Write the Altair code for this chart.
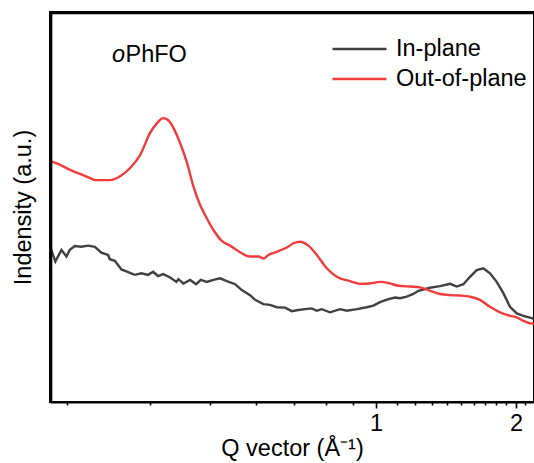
import altair as alt
import pandas as pd

# ---- data ----
series_names = ["In-plane", "Out-of-plane"]
series_colors = ["#404040", "#f03c3c"]

q_in = [0.2834, 0.2846, 0.2885, 0.2944, 0.2994, 0.3028, 0.3080, 0.3149, 0.3222, 0.3298,
        0.3373, 0.3453, 0.3473, 0.3535, 0.3618, 0.3705, 0.3794, 0.3884, 0.3980, 0.4052,
        0.4126, 0.4203, 0.4306, 0.4414, 0.4446, 0.4530, 0.4644, 0.4751, 0.4836, 0.4948,
        0.5075, 0.5206, 0.5344, 0.5521, 0.5667, 0.5855, 0.5975, 0.6177, 0.6344, 0.6522,
        0.6748, 0.6936, 0.7128, 0.7333, 0.7543, 0.7706, 0.7871, 0.8156, 0.8518, 0.8775,
        0.9172, 0.9591, 0.9881, 1.0184, 1.0582, 1.0916, 1.1169, 1.1528, 1.1894, 1.2180,
        1.2883, 1.3524, 1.4210, 1.4700, 1.5196, 1.5713, 1.6266, 1.6827, 1.7415, 1.8045,
        1.8688, 1.9365, 2.0081, 2.0814, 2.1790, 2.2070]
i_in = [38.6, 39.0, 36.0, 39.0, 37.3, 39.0, 40.0, 39.8, 40.1, 39.8,
        38.3, 37.7, 36.6, 36.2, 34.0, 33.3, 32.6, 33.0, 32.6, 33.4,
        32.3, 32.8, 32.0, 30.8, 31.5, 30.4, 31.3, 30.2, 31.3, 30.8,
        31.3, 31.7, 31.0, 30.2, 28.7, 27.4, 26.2, 25.1, 24.9, 24.3,
        24.2, 23.3, 23.6, 23.8, 24.0, 23.4, 23.8, 23.0, 23.8, 23.4,
        23.8, 24.3, 24.7, 25.6, 26.4, 26.8, 26.6, 27.0, 27.7, 28.5,
        29.3, 29.7, 30.3, 29.6, 30.2, 32.1, 33.8, 34.3, 33.0, 30.8,
        27.9, 24.4, 22.7, 22.1, 21.5, 21.3]

q_out = [0.2834, 0.2931, 0.3031, 0.3135, 0.3244, 0.3301, 0.3477, 0.3601, 0.3731, 0.3866,
         0.4008, 0.4111, 0.4202, 0.4279, 0.4359, 0.4474, 0.4592, 0.4696, 0.4823, 0.4917,
         0.5075, 0.5241, 0.5412, 0.5629, 0.5855, 0.6053, 0.6177, 0.6302, 0.6522, 0.6795,
         0.6983, 0.7178, 0.7435, 0.7706, 0.8043, 0.8399, 0.8902, 0.9305, 0.9732, 1.0184,
         1.0663, 1.1083, 1.1705, 1.2277, 1.2883, 1.3524, 1.4210, 1.4941, 1.5713, 1.6538,
         1.7415, 1.8355, 1.9365, 2.0081, 2.0814, 2.1587, 2.2070]
i_out = [61.8, 60.8, 59.5, 58.5, 57.4, 56.9, 56.9, 57.9, 60.0, 63.3,
         69.0, 71.5, 72.8, 72.3, 70.5, 66.4, 61.3, 55.6, 50.5, 47.9,
         44.1, 41.3, 40.1, 38.4, 37.3, 37.3, 36.8, 37.7, 38.5, 39.6,
         40.7, 41.1, 40.1, 37.7, 34.3, 32.1, 31.0, 30.3, 30.4, 30.8,
         30.4, 29.8, 29.6, 29.4, 28.5, 27.7, 27.4, 27.3, 27.0, 26.2,
         24.4, 23.0, 22.1, 21.7, 20.8, 20.2, 20.1]

tick_values = [0.3, 0.4, 0.5, 0.6, 0.7, 0.8, 0.9, 1, 1.1, 1.2, 1.3, 1.4, 1.5,
               1.6, 1.7, 1.8, 1.9, 2, 2.1]
x_domain = [0.2834, 2.207]
y_domain = [0, 100]

# plot frame edges (in data units): top edge and left edge
frame_top_q = [0.2834]
frame_top_q_end = [2.207]
frame_top_i = [99.75]
frame_left_q = [0.2844]
frame_left_i = [0]
frame_left_i_end = [100]

sample_label_italic = "o"
sample_label_rest = "PhFO"

FONT = "Liberation Sans"
FS = 23.5
W, H = 484, 390

df = pd.DataFrame({
    "q": q_in + q_out,
    "intensity": i_in + i_out,
    "series": [series_names[0]] * len(q_in) + [series_names[1]] * len(q_out),
})

x_enc = alt.X(
    "q:Q",
    scale=alt.Scale(type="pow", exponent=-0.25, domain=x_domain, nice=False, zero=False),
    axis=alt.Axis(
        values=tick_values,
        format="~g",
        labelExpr="(datum.value == 1 || datum.value == 2) ? datum.label : ''",
        labelOverlap=False,
        labelFlush=False,
        tickSize={"condition": {"test": "datum.value == 1 || datum.value == 2", "value": 6}, "value": 3},
        tickWidth=1.6,
        tickColor="black",
        labelPadding=3,
        labelFontSize=FS,
        labelFont=FONT,
        labelColor="black",
        domain=True,
        domainColor="black",
        domainWidth=2,
        grid=False,
        title="Q vector (Å⁻¹)",
        titleFont=FONT,
        titleFontSize=FS,
        titleFontWeight="normal",
        titleColor="black",
        titleX=242,
        titleY=46,
        titleAlign="center",
        titleBaseline="middle",
    ),
)

y_enc = alt.Y(
    "intensity:Q",
    scale=alt.Scale(domain=y_domain, nice=False, zero=False),
    axis=alt.Axis(
        ticks=False,
        labels=False,
        domain=True,
        domainColor="black",
        domainWidth=2,
        grid=False,
        title="Indensity (a.u.)",
        titleFont=FONT,
        titleFontSize=FS,
        titleFontWeight="normal",
        titleColor="black",
        titleX=-27,
        titleY=195,
        titleAngle=-90,
        titleAlign="center",
        titleBaseline="middle",
    ),
)

legend = alt.Legend(
    orient="none",
    legendX=281,
    legendY=22,
    title=None,
    symbolType="stroke",
    symbolSize=2916,
    symbolStrokeWidth=2.4,
    clipHeight=30,
    rowPadding=0,
    labelOffset=8,
    labelFont=FONT,
    labelFontSize=FS,
    labelColor="black",
    labelLimit=300,
    padding=0,
)

color_enc = alt.Color(
    "series:N",
    scale=alt.Scale(domain=series_names, range=series_colors),
    legend=legend,
)

base = alt.Chart(df).encode(x=x_enc, y=y_enc, color=color_enc)

line_in = base.transform_filter(alt.datum.series == series_names[0]).mark_line(
    strokeWidth=2.4, interpolate="linear"
)
line_out = base.transform_filter(alt.datum.series == series_names[1]).mark_line(
    strokeWidth=2.4, interpolate="monotone"
)

txt_o = alt.Chart(pd.DataFrame({"t": [sample_label_italic]})).mark_text(
    font=FONT, fontSize=FS, fontStyle="italic", align="left", baseline="alphabetic", color="black"
).encode(text="t:N", x=alt.value(62), y=alt.value(50))

txt_rest = alt.Chart(pd.DataFrame({"t": [sample_label_rest]})).mark_text(
    font=FONT, fontSize=FS, align="left", baseline="alphabetic", color="black"
).encode(text="t:N", x=alt.value(75.5), y=alt.value(50))

frame_top = alt.Chart(pd.DataFrame({
    "q": frame_top_q, "q_end": frame_top_q_end, "intensity": frame_top_i,
})).mark_rule(color="#000000", strokeWidth=2.5).encode(
    x=x_enc, x2=alt.X2("q_end"), y=y_enc
)

frame_left = alt.Chart(pd.DataFrame({
    "q": frame_left_q, "intensity": frame_left_i, "intensity_end": frame_left_i_end,
})).mark_rule(color="#000000", strokeWidth=2.5).encode(
    x=x_enc, y=y_enc, y2=alt.Y2("intensity_end")
)

chart = alt.layer(line_in, line_out, txt_o, txt_rest, frame_top, frame_left).properties(
    width=W,
    height=H,
    autosize=alt.AutoSizeParams(type="none"),
    padding={"left": 50, "top": 12, "right": 0, "bottom": 61},
).configure_view(
    stroke="black", strokeWidth=2
)

chart.save("out.html", embed_options={"renderer": "svg", "actions": False})
